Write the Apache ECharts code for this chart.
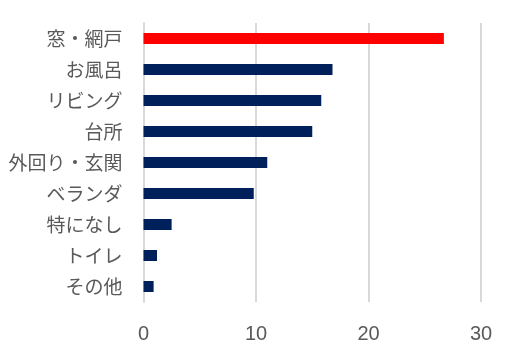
<!DOCTYPE html>
<html><head><meta charset="utf-8">
<script src="https://cdn.jsdelivr.net/npm/echarts@6/dist/echarts.min.js"></script>
<style>html,body{margin:0;padding:0;background:#fff}#c{width:516px;height:362px}</style>
</head><body><div id="c"></div>
<script>
const categories = ["窓・網戸","お風呂","リビング","台所","外回り・玄関","ベランダ","特になし","トイレ","その他"];
const values = [26.7, 16.8, 15.8, 15.0, 11.0, 9.8, 2.5, 1.2, 0.9];
const highlightIndex = 0;
const xTicks = [0, 10, 20, 30];

const chart = echarts.init(document.getElementById('c'), null, {renderer:'canvas'});
chart.setOption({
  animation:false,
  grid:{left:143.5, top:23, width:337.5, height:279, containLabel:false},
  xAxis:{type:'value', min:xTicks[0], max:xTicks[xTicks.length-1], interval:10,
    axisLine:{show:false}, axisTick:{show:false},
    splitLine:{show:true, lineStyle:{color:'#d9d9d9', width:2}},
    axisLabel:{color:'#595959', fontSize:20, margin:22, fontFamily:'"Liberation Sans","Noto Sans",sans-serif'}},
  yAxis:{type:'category', data:categories, inverse:true,
    axisLine:{show:true, lineStyle:{color:'#d9d9d9', width:2}}, axisTick:{show:false},
    axisLabel:{color:'#595959', fontSize:19, margin:21, fontFamily:'"Noto Sans CJK JP",sans-serif'}},
  series:[{type:'bar', barWidth:11,
    data: values.map((v,i)=>({value:v, itemStyle:{color: i===highlightIndex ? '#ff0000' : '#00205b'}}))}]
});
</script></body></html>
